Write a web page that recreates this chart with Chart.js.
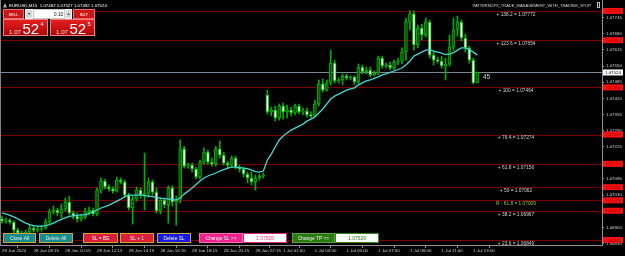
<!DOCTYPE html>
<html>
<head>
<meta charset="utf-8">
<script src="https://cdn.jsdelivr.net/npm/chart.js@4.4.1/dist/chart.umd.min.js"></script>
<style>
html,body{margin:0;padding:0;background:#000;}
canvas{display:block;}
</style>
</head>
<body>
<canvas id="myChart" width="625" height="256"></canvas>
<script>
// EURUSD M15, 28 Jun 06:15 -> 1 Jul 13:15
const opens = [1.06934,1.06925,1.06929,1.06921,1.06889,1.06877,1.06865,1.06881,1.06897,1.06889,
  1.06893,1.06897,1.06921,1.06962,1.06970,1.06958,1.06974,1.07002,1.06958,1.06946,
  1.06934,1.06942,1.06962,1.06970,1.06954,1.07050,1.07087,1.07063,1.07055,1.07046,
  1.07091,1.07083,1.07030,1.06978,1.07014,1.07050,1.07030,1.07038,1.07083,1.07042,
  1.06966,1.07010,1.06990,1.07059,1.07002,1.07014,1.07216,1.07147,1.07151,1.07135,
  1.07103,1.07163,1.07203,1.07163,1.07155,1.07216,1.07191,1.07159,1.07151,1.07179,
  1.07143,1.07135,1.07115,1.07099,1.07083,1.07099,1.07107,1.07433,1.07365,1.07373,
  1.07341,1.07389,1.07365,1.07373,1.07361,1.07389,1.07365,1.07369,1.07353,1.07349,
  1.07397,1.07478,1.07453,1.07482,1.07562,1.07490,1.07494,1.07510,1.07502,1.07506,
  1.07486,1.07546,1.07526,1.07534,1.07514,1.07522,1.07582,1.07550,1.07554,1.07542,
  1.07566,1.07570,1.07606,1.07727,1.07760,1.07635,1.07703,1.07675,1.07727,1.07594,
  1.07574,1.07570,1.07550,1.07558,1.07627,1.07695,1.07727,1.07663,1.07623,1.07574,
  1.07482];
const highs = [1.06946,1.06938,1.06934,1.06925,1.06897,1.06885,1.06889,1.06913,1.06905,1.06905,
  1.06909,1.06934,1.06974,1.06986,1.06978,1.06994,1.07018,1.07026,1.06966,1.06958,
  1.06954,1.06978,1.06982,1.06978,1.07059,1.07099,1.07095,1.07071,1.07063,1.07103,
  1.07099,1.07091,1.07038,1.07026,1.07063,1.07059,1.07199,1.07099,1.07091,1.07059,
  1.07018,1.07018,1.07067,1.07067,1.07026,1.07252,1.07227,1.07159,1.07159,1.07143,
  1.07171,1.07220,1.07211,1.07179,1.07227,1.07248,1.07203,1.07167,1.07187,1.07187,
  1.07151,1.07143,1.07123,1.07123,1.07111,1.07115,1.07119,1.07453,1.07385,1.07389,
  1.07397,1.07401,1.07393,1.07385,1.07397,1.07397,1.07381,1.07381,1.07365,1.07413,
  1.07494,1.07498,1.07494,1.07614,1.07574,1.07502,1.07518,1.07518,1.07510,1.07510,
  1.07558,1.07554,1.07546,1.07546,1.07530,1.07590,1.07590,1.07562,1.07566,1.07574,
  1.07582,1.07623,1.07743,1.07772,1.07772,1.07715,1.07719,1.07743,1.07735,1.07606,
  1.07586,1.07590,1.07582,1.07675,1.07743,1.07751,1.07735,1.07679,1.07631,1.07582,
  1.07527];
const lows = [1.06917,1.06917,1.06913,1.06877,1.06857,1.06849,1.06849,1.06865,1.06881,1.06881,
  1.06885,1.06893,1.06913,1.06954,1.06946,1.06938,1.06966,1.06950,1.06934,1.06921,
  1.06925,1.06934,1.06950,1.06946,1.06946,1.07038,1.07055,1.07046,1.07038,1.07042,
  1.07075,1.07022,1.06970,1.06913,1.07006,1.07018,1.06970,1.07022,1.07030,1.06958,
  1.06954,1.06978,1.06917,1.06986,1.06909,1.06998,1.07139,1.07139,1.07123,1.07095,
  1.07095,1.07155,1.07155,1.07147,1.07147,1.07179,1.07151,1.07139,1.07143,1.07135,
  1.07123,1.07103,1.07079,1.07071,1.07050,1.07091,1.07099,1.07357,1.07349,1.07328,
  1.07332,1.07336,1.07341,1.07349,1.07353,1.07357,1.07353,1.07345,1.07341,1.07345,
  1.07389,1.07445,1.07449,1.07474,1.07482,1.07482,1.07474,1.07494,1.07494,1.07474,
  1.07478,1.07518,1.07518,1.07506,1.07510,1.07514,1.07542,1.07542,1.07534,1.07534,
  1.07554,1.07558,1.07574,1.07695,1.07614,1.07623,1.07655,1.07667,1.07582,1.07554,
  1.07562,1.07542,1.07494,1.07550,1.07614,1.07671,1.07651,1.07606,1.07562,1.07478,
  1.07482];
const closes = [1.06925,1.06929,1.06921,1.06889,1.06877,1.06865,1.06881,1.06897,1.06889,1.06893,
  1.06897,1.06921,1.06962,1.06970,1.06958,1.06974,1.07002,1.06958,1.06946,1.06934,
  1.06942,1.06962,1.06970,1.06954,1.07050,1.07087,1.07063,1.07055,1.07046,1.07091,
  1.07083,1.07030,1.06978,1.07014,1.07050,1.07030,1.07038,1.07083,1.07042,1.06966,
  1.07010,1.06990,1.07059,1.07002,1.07014,1.07216,1.07147,1.07151,1.07135,1.07103,
  1.07163,1.07203,1.07163,1.07155,1.07216,1.07191,1.07159,1.07151,1.07179,1.07143,
  1.07135,1.07115,1.07099,1.07083,1.07099,1.07107,1.07111,1.07365,1.07373,1.07341,
  1.07389,1.07365,1.07373,1.07361,1.07389,1.07365,1.07369,1.07353,1.07349,1.07397,
  1.07478,1.07453,1.07482,1.07562,1.07490,1.07494,1.07510,1.07502,1.07506,1.07486,
  1.07546,1.07526,1.07534,1.07514,1.07522,1.07582,1.07550,1.07554,1.07542,1.07566,
  1.07570,1.07606,1.07727,1.07760,1.07635,1.07703,1.07675,1.07727,1.07594,1.07574,
  1.07570,1.07550,1.07558,1.07627,1.07695,1.07727,1.07663,1.07623,1.07574,1.07482,
  1.07524];
// moving average line
const maValues = [1.06958,1.06954,1.06948,1.06942,1.06934,1.06925,1.06917,1.06911,1.06907,1.06905,
  1.06905,1.06907,1.06911,1.06917,1.06925,1.06932,1.06938,1.06944,1.06946,1.06948,
  1.06950,1.06950,1.06956,1.06962,1.06970,1.06978,1.06984,1.06990,1.06998,1.07006,
  1.07014,1.07024,1.07030,1.07030,1.07030,1.07030,1.07028,1.07026,1.07024,1.07020,
  1.07018,1.07016,1.07014,1.07012,1.07010,1.07018,1.07034,1.07046,1.07059,1.07073,
  1.07087,1.07099,1.07107,1.07113,1.07119,1.07127,1.07133,1.07139,1.07143,1.07143,
  1.07141,1.07139,1.07137,1.07131,1.07125,1.07123,1.07127,1.07171,1.07195,1.07224,
  1.07252,1.07268,1.07280,1.07292,1.07300,1.07308,1.07316,1.07328,1.07336,1.07345,
  1.07361,1.07377,1.07397,1.07417,1.07429,1.07437,1.07445,1.07453,1.07458,1.07462,
  1.07474,1.07482,1.07490,1.07494,1.07500,1.07506,1.07514,1.07518,1.07524,1.07530,
  1.07536,1.07542,1.07554,1.07570,1.07590,1.07598,1.07606,1.07614,1.07616,1.07610,
  1.07606,1.07602,1.07596,1.07598,1.07604,1.07614,1.07623,1.07623,1.07616,1.07606,
  1.07594];

const slots = 152; // bars that fit the window incl. right shift
const timeTickIdx = [0, 8, 16, 24, 32, 40, 48, 56, 64, 71, 79, 87, 95, 103, 111, 119];
const timeTickLabels = ['28 Jun 2024', '28 Jun 08:15', '28 Jun 10:15', '28 Jun 12:15', '28 Jun 14:15',
  '28 Jun 16:15', '28 Jun 18:15', '28 Jun 20:15', '28 Jun 22:15', '1 Jul 01:00', '1 Jul 03:00',
  '1 Jul 05:00', '1 Jul 07:00', '1 Jul 09:00', '1 Jul 11:00', '1 Jul 13:00'];
const priceTicks = [1.06835, 1.06900, 1.06965, 1.07030, 1.07095, 1.07160, 1.07225, 1.07290,
  1.07355, 1.07420, 1.07485, 1.07550, 1.07615, 1.07680, 1.07745];
const priceMin = 1.06829;
const priceMax = 1.07816;

const fiboValues = [1.07772, 1.07654, 1.07464, 1.07274, 1.07156, 1.07062, 1.07009, 1.06967, 1.06849];
const fiboTexts = ['+ 138.2 = 1.07772', '+ 123.6 = 1.07654', '+ 100 = 1.07464', '+ 76.4 = 1.07274',
  '+ 61.8 = 1.07156', '+ 50 = 1.07062', 'R - 61.8 = 1.07009', '+ 38.2 = 1.06967', '+ 23.6 = 1.06849'];
const bid = 1.07524;
const spread = '45';
const symbolLine = 'EURUSD,M15  1.07482 1.07527 1.07482 1.07524';
const eaName = 'PATTERNCFX_TRADE_MANAGEMENT_WITH_TRADING_STOP';

const FONT = '"Liberation Sans", Arial, sans-serif';
const f = (size, weight) => `${weight || 'normal'} ${size}px ${FONT}`;

const bullFill = '#0a520a', bearFill = '#eefcee', candleLine = '#00b000';

function btn(ctx, x, y, w, h, fill, border, text, color, size) {
   ctx.fillStyle = fill;
   ctx.fillRect(x, y, w, h);
   if (border) {
      ctx.strokeStyle = border;
      ctx.lineWidth = 1;
      ctx.strokeRect(x + 0.5, y + 0.5, w - 1, h - 1);
   }
   if (text) {
      ctx.fillStyle = color;
      ctx.font = f(size);
      ctx.textAlign = 'center';
      ctx.textBaseline = 'middle';
      ctx.fillText(text, x + w / 2, y + h / 2 + 0.5);
   }
}

const mt4 = {
   id: 'mt4',
   beforeDraw(chart) {
      const ctx = chart.ctx;
      ctx.save();
      ctx.fillStyle = '#000';
      ctx.fillRect(0, 0, chart.width, chart.height);
      ctx.restore();
   },
   beforeDatasetsDraw(chart) {
      const {ctx, chartArea, scales: {y}} = chart;
      ctx.save();
      ctx.lineWidth = 1;
      ctx.strokeStyle = '#7d0000';
      fiboValues.forEach(v => {
         const py = Math.round(y.getPixelForValue(v)) + 0.5;
         ctx.beginPath(); ctx.moveTo(chartArea.left, py); ctx.lineTo(chartArea.right, py); ctx.stroke();
      });
      ctx.strokeStyle = '#7b8896';
      const by = Math.round(y.getPixelForValue(bid)) + 0.5;
      ctx.beginPath(); ctx.moveTo(chartArea.left, by); ctx.lineTo(chartArea.right, by); ctx.stroke();
      ctx.restore();
   },
   afterDraw(chart) {
      const {ctx, chartArea, scales: {y}} = chart;
      ctx.save();
      // left frame
      ctx.strokeStyle = '#808080';
      ctx.beginPath(); ctx.moveTo(0.5, 0); ctx.lineTo(0.5, chartArea.bottom); ctx.stroke();

      // fibo labels
      ctx.font = f(4.8);
      ctx.textAlign = 'center';
      ctx.textBaseline = 'middle';
      fiboValues.forEach((v, i) => {
         ctx.fillStyle = fiboTexts[i].startsWith('R') ? '#9acd32' : '#d2d2d2';
         ctx.fillText(fiboTexts[i], 516, y.getPixelForValue(v) + 3.6);
      });
      ctx.font = f(6.5);
      ctx.fillStyle = '#d0d0d0';
      ctx.textAlign = 'left';
      ctx.fillText(spread, 483, y.getPixelForValue(bid) + 4.5);

      // price boxes on the axis
      ctx.font = f(4.4);
      fiboValues.forEach(v => {
         const py = y.getPixelForValue(v);
         ctx.fillStyle = '#ff1010';
         ctx.fillRect(603, py - 3, 20, 6);
         ctx.fillStyle = '#8a0000';
         ctx.fillText(v.toFixed(5), 605, py + 0.3);
      });
      const bpy = y.getPixelForValue(bid);
      ctx.fillStyle = '#ffffff';
      ctx.fillRect(603, bpy - 3, 20, 6);
      ctx.fillStyle = '#000';
      ctx.fillText(bid.toFixed(5), 605, bpy + 0.3);

      // header
      ctx.fillStyle = '#b0b0b0';
      ctx.beginPath(); ctx.moveTo(3, 7.5); ctx.lineTo(5, 3); ctx.lineTo(7, 7.5); ctx.closePath(); ctx.fill();
      ctx.font = f(4.4);
      ctx.fillStyle = '#ffffff';
      ctx.fillText(symbolLine, 9, 5.5);
      ctx.textAlign = 'right';
      ctx.fillStyle = '#d8d8d8';
      ctx.font = f(4);
      ctx.fillText(eaName, 591, 5.5);
      ctx.strokeStyle = '#c0c0c0';
      ctx.strokeRect(597.5, 2.5, 2, 5);

      // one-click trading panel
      btn(ctx, 3, 9, 21, 10, '#c81818', '#ee6a6a', 'SELL', '#ffffff', 4);
      btn(ctx, 25, 9, 8, 10, '#d8d8d8', '#f4f4f4');
      btn(ctx, 33, 9, 32, 10, '#ffffff', '#c8c8c8');
      btn(ctx, 65, 9, 7, 10, '#d8d8d8', '#f4f4f4');
      ctx.fillStyle = '#606060';
      ctx.beginPath(); ctx.moveTo(27.5, 13); ctx.lineTo(30.5, 13); ctx.lineTo(29, 15); ctx.closePath(); ctx.fill();
      ctx.beginPath(); ctx.moveTo(67, 15); ctx.lineTo(70, 15); ctx.lineTo(68.5, 13); ctx.closePath(); ctx.fill();
      ctx.fillStyle = '#000';
      ctx.font = f(4.6);
      ctx.textAlign = 'right';
      ctx.textBaseline = 'middle';
      ctx.fillText('0.10', 63, 14.5);
      btn(ctx, 73, 9, 22, 10, '#c81818', '#ee6a6a', 'BUY', '#ffffff', 4);
      [[3, '4'], [50, '5']].forEach(([px, last]) => {
         const g = ctx.createLinearGradient(0, 19, 0, 36);
         g.addColorStop(0, '#ea2020');
         g.addColorStop(1, '#a80606');
         ctx.fillStyle = g;
         ctx.fillRect(px, 19, 45, 17);
         ctx.strokeStyle = '#f08080';
         ctx.strokeRect(px + 0.5, 19.5, 44, 16);
         ctx.fillStyle = '#ffd8d8';
         ctx.textAlign = 'left';
         ctx.textBaseline = 'alphabetic';
         ctx.font = f(6.2);
         ctx.fillText('1.07', px + 6, 34);
         ctx.fillStyle = '#ffffff';
         ctx.font = f(15);
         ctx.fillText('52', px + 19.5, 34);
         ctx.font = f(5.5);
         ctx.fillText(last, px + 37.5, 26);
      });

      // bottom buttons
      btn(ctx, 3, 233, 33, 10, '#168c8c', '#c8a838', 'Close All', '#e8e8e8', 4.8);
      btn(ctx, 39, 233, 34, 10, '#168c8c', '#c8a838', 'Delete All', '#e8e8e8', 4.8);
      btn(ctx, 83, 233, 35, 10, '#dc1e3c', '#d4a030', 'SL = BE', '#f4f4f4', 4.8);
      btn(ctx, 120, 233, 34, 10, '#dc1e3c', '#d4a030', 'SL + 1', '#f4f4f4', 4.8);
      btn(ctx, 157, 233, 34, 10, '#1a1ae8', '#c8a838', 'Delete SL', '#f4f4f4', 4.8);
      btn(ctx, 199, 233, 44, 10, '#f0208c', '#f070b0', 'Change SL >>', '#f8f8f8', 4.8);
      btn(ctx, 243, 233, 44, 10, '#ffffff', '#e0207a', '1.07526', '#e0407a', 5);
      btn(ctx, 292, 233, 43, 10, '#2a7a10', '#5aa040', 'Change TP >>', '#f0f0f0', 4.8);
      btn(ctx, 335, 233, 44, 10, '#ffffff', '#2a8a10', '1.07526', '#2a7a10', 5);
      ctx.restore();
   }
};

const ctx = document.getElementById('myChart').getContext('2d');
const chart = new Chart(ctx, {
   type: 'bar',
   data: {
      labels: Array.from({length: slots}, (_, i) => i),
      datasets: [
         {
            type: 'line',
            data: maValues,
            borderColor: '#40d8d0',
            borderWidth: 1.3,
            pointRadius: 0,
            tension: 0,
            order: 1
         },
         {
            // candle bodies
            data: opens.map((o, i) => [o, closes[i]]),
            backgroundColor: opens.map((o, i) => closes[i] >= o ? bullFill : bearFill),
            borderColor: candleLine,
            borderWidth: 1,
            borderSkipped: false,
            barThickness: 3,
            grouped: false,
            order: 2
         },
         {
            // wicks
            data: lows.map((l, i) => [l, highs[i]]),
            backgroundColor: candleLine,
            borderWidth: 0,
            barThickness: 1,
            grouped: false,
            order: 3
         }
      ]
   },
   options: {
      responsive: false,
      animation: false,
      devicePixelRatio: 1,
      layout: {padding: 0},
      plugins: {legend: {display: false}, tooltip: {enabled: false}},
      scales: {
         x: {
            type: 'category',
            offset: true,
            afterBuildTicks: s => { s.ticks = timeTickIdx.map(i => ({value: i})); },
            afterFit: s => { s.height = 11; s.paddingLeft = 0; s.paddingRight = 0; },
            ticks: {
               autoSkip: false,
               maxRotation: 0,
               align: 'start',
               padding: 0,
               color: '#d0d0d0',
               font: {family: FONT, size: 4.4},
               callback: (v, i) => timeTickLabels[i]
            },
            grid: {drawOnChartArea: false, drawTicks: true, tickLength: 3, color: '#909090'},
            border: {color: '#909090'}
         },
         y: {
            position: 'right',
            min: priceMin,
            max: priceMax,
            afterBuildTicks: s => { s.ticks = priceTicks.map(v => ({value: v})); },
            afterFit: s => { s.width = 23; s.paddingTop = 0; s.paddingBottom = 0; },
            ticks: {
               padding: 2,
               color: '#d0d0d0',
               font: {family: FONT, size: 4.4},
               callback: v => v.toFixed(5)
            },
            grid: {drawOnChartArea: false, drawTicks: true, tickLength: 2, color: '#909090'},
            border: {color: '#909090'}
         }
      }
   },
   plugins: [mt4]
});
</script>
</body>
</html>
